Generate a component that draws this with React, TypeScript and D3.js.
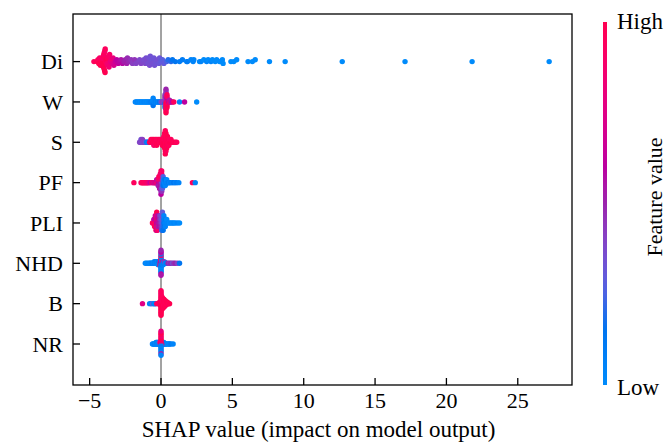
import React from 'react';
import * as d3 from 'd3';

const features = ['Di', 'W', 'S', 'PF', 'PLI', 'NHD', 'B', 'NR'];
const xTicks = [-5, 0, 5, 10, 15, 20, 25];
const xLabel = 'SHAP value (impact on model output)';
const cbLabel = 'Feature value';

// [SHAP value, normalised feature value (0 = low, 1 = high)]
const diPoints: [number, number][] = [
  [-4.7, 0.95],
  [-4.48, 1], [-4.42, 0.95], [-4.36, 1], [-4.3, 0.9], [-4.25, 1],
  [-4.2, 1], [-4.17, 0.95], [-4.14, 1], [-4.11, 0.9], [-4.08, 1], [-4.05, 0.95], [-4.03, 1], [-4.01, 0.9], [-3.99, 1], [-3.97, 0.95], [-3.95, 1], [-3.93, 0.9], [-3.92, 1], [-3.91, 0.95],
  [-3.88, 0.95], [-3.84, 1], [-3.8, 0.9], [-3.76, 0.95], [-3.72, 0.85], [-3.68, 0.9], [-3.64, 0.85], [-3.6, 0.9],
  [-3.55, 0.8], [-3.48, 0.85], [-3.42, 0.75], [-3.36, 0.8], [-3.3, 0.7],
  [-3.2, 0.65], [-3.1, 0.6], [-3.0, 0.62],
  [-2.9, 0.58], [-2.8, 0.55], [-2.7, 0.58],
  [-2.6, 0.52], [-2.5, 0.5], [-2.4, 0.52], [-2.35, 0.48],
  [-2.25, 0.48], [-2.1, 0.45], [-2.0, 0.42],
  [-1.95, 0.42], [-1.85, 0.45], [-1.75, 0.4],
  [-1.6, 0.4], [-1.5, 0.38], [-1.4, 0.4],
  [-1.3, 0.38], [-1.2, 0.36], [-1.1, 0.38], [-1.05, 0.35],
  [-1.0, 0.36], [-0.95, 0.38], [-0.9, 0.35], [-0.85, 0.34], [-0.8, 0.36], [-0.75, 0.34],
  [-0.7, 0.35], [-0.65, 0.33], [-0.6, 0.35], [-0.5, 0.33], [-0.45, 0.34],
  [-0.35, 0.33], [-0.25, 0.35], [-0.15, 0.32], [-0.1, 0.33],
  [0.0, 0.3], [0.1, 0.28], [0.2, 0.3],
  [0.4, 0.25], [0.5, 0.2],
  [0.7, 0.2], [0.8, 0.15],
  [1.0, 0.15], [1.3, 0.1], [1.5, 0.1], [1.8, 0.05], [1.85, 0.1], [2.1, 0.05], [2.25, 0.05], [2.3, 0.05],
  [2.7, 0.0], [2.8, 0.05], [3.0, 0.0], [3.2, 0.05], [3.3, 0.0], [3.5, 0.05], [3.6, 0.0], [3.8, 0.0], [3.9, 0.0], [4.1, 0.0], [4.3, 0.0], [4.35, 0.0],
  [4.9, 0.0], [5.1, 0.0], [5.3, 0.0],
  [6.1, 0.0], [6.4, 0.0], [6.6, 0.0],
  [7.6, 0.0], [8.7, 0.0], [12.7, 0.0], [17.1, 0.0], [21.8, 0.0], [27.2, 0.0],
];

const wPoints: [number, number][] = [
  [-1.8, 0.05], [-1.72, 0.0], [-1.65, 0.05], [-1.55, 0.0], [-1.5, 0.05], [-1.42, 0.0], [-1.35, 0.05], [-1.28, 0.0], [-1.2, 0.05], [-1.12, 0.05], [-1.05, 0.0], [-1.0, 0.05], [-0.92, 0.0], [-0.85, 0.05], [-0.78, 0.05], [-0.7, 0.1], [-0.62, 0.05],
  [-0.55, 0.05], [-0.55, 0.0], [-0.55, 0.1], [-0.55, 0.05], [-0.55, 0.15],
  [-0.48, 0.05], [-0.4, 0.1], [-0.32, 0.05], [-0.25, 0.1], [-0.18, 0.05], [-0.1, 0.15], [-0.05, 0.1],
  [0.0, 0.25], [0.05, 0.35], [0.1, 0.45], [0.15, 0.4],
  [0.28, 0.45], [0.28, 0.4], [0.28, 0.15], [0.28, 0.45], [0.28, 0.25], [0.28, 0.5], [0.28, 0.15], [0.28, 0.45],
  [0.35, 0.9], [0.35, 0.45], [0.35, 0.95], [0.35, 0.4], [0.35, 0.95], [0.35, 0.5], [0.35, 1], [0.35, 0.45], [0.35, 0.95], [0.35, 0.4], [0.35, 0.9], [0.35, 0.45], [0.35, 1], [0.35, 0.5],
  [0.42, 0.95], [0.42, 0.9], [0.42, 1], [0.42, 0.6], [0.42, 0.95], [0.42, 0.9], [0.42, 1], [0.42, 0.95],
  [0.5, 0.9], [0.55, 0.6], [0.6, 0.95], [0.6, 0.55], [0.65, 0.9], [0.7, 0.55], [0.8, 0.6], [0.9, 0.95],
  [1.3, 0.05], [1.65, 0.6], [2.5, 0.0],
];

const sPoints: [number, number][] = [
  [-1.5, 0.38], [-1.45, 0.42], [-1.4, 0.38], [-1.4, 0.35], [-1.35, 0.4], [-1.3, 0.35], [-1.3, 0.42], [-1.25, 0.38], [-1.2, 0.4], [-1.15, 0.42], [-1.1, 0.35],
  [-1.0, 0.1], [-0.95, 0.05], [-0.9, 0.05],
  [-0.8, 0.95], [-0.75, 1], [-0.7, 0.95], [-0.7, 1], [-0.65, 0.95], [-0.6, 1], [-0.6, 0.95], [-0.55, 1], [-0.5, 0.95], [-0.5, 1], [-0.5, 0.9],
  [-0.45, 1], [-0.4, 0.95], [-0.4, 1], [-0.35, 0.95], [-0.3, 1], [-0.3, 0.95], [-0.3, 1], [-0.25, 0.95], [-0.2, 1], [-0.2, 0.95],
  [-0.15, 1], [-0.1, 0.95], [-0.1, 1], [-0.05, 0.95], [0.0, 1], [0.0, 0.95], [0.05, 1], [0.05, 0.95],
  [0.1, 1], [0.1, 0.95], [0.1, 1], [0.15, 0.95], [0.15, 1], [0.15, 0.95],
  [0.2, 1], [0.2, 0.95], [0.2, 1], [0.2, 0.95],
  [0.25, 1], [0.25, 0.95], [0.25, 1], [0.25, 0.95], [0.25, 1], [0.25, 0.95],
  [0.3, 1], [0.3, 0.95], [0.3, 1], [0.3, 0.95], [0.3, 1], [0.3, 0.95], [0.3, 1], [0.3, 0.95], [0.3, 1],
  [0.35, 0.95], [0.35, 1], [0.35, 0.95], [0.35, 1], [0.35, 0.95], [0.35, 1], [0.35, 0.95],
  [0.4, 1], [0.4, 0.95], [0.4, 1], [0.4, 0.95], [0.4, 1],
  [0.45, 0.95], [0.45, 1], [0.45, 0.95], [0.45, 1],
  [0.5, 1], [0.5, 0.95], [0.5, 1], [0.55, 0.95], [0.55, 1], [0.55, 0.95],
  [0.6, 1], [0.6, 0.95], [0.7, 1], [0.7, 0.95], [0.8, 1], [0.9, 0.95], [1.0, 1], [1.1, 0.95],
];

const pfPoints: [number, number][] = [
  [-1.9, 0.95], [-1.4, 0.9], [-1.35, 0.95], [-1.3, 0.9], [-1.25, 1], [-1.2, 0.9], [-1.15, 0.95], [-1.1, 0.9], [-1.05, 0.95], [-1.0, 0.9], [-0.95, 0.85], [-0.9, 0.95], [-0.85, 0.8],
  [-0.75, 0.65], [-0.65, 0.9], [-0.55, 0.6], [-0.5, 0.85], [-0.45, 0.65], [-0.4, 0.9],
  [-0.35, 0.6], [-0.3, 0.85], [-0.3, 0.6], [-0.25, 0.9], [-0.25, 0.55], [-0.2, 0.7], [-0.2, 0.9], [-0.2, 0.55],
  [-0.15, 0.6], [-0.15, 0.85], [-0.15, 0.5], [-0.15, 0.95],
  [-0.1, 0.7], [-0.1, 0.9], [-0.1, 0.55], [-0.1, 0.95], [-0.1, 0.6],
  [-0.05, 0.6], [-0.05, 0.9], [-0.05, 0.5], [-0.05, 0.95], [-0.05, 0.55], [-0.05, 0.85],
  [0.0, 0.55], [0.0, 0.85], [0.0, 0.6], [0.0, 0.95], [0.0, 0.5], [0.0, 0.9], [0.0, 0.45], [0.0, 0.95], [0.0, 0.6],
  [0.05, 0.4], [0.05, 0.9], [0.05, 0.5], [0.05, 0.95], [0.05, 0.35], [0.05, 0.85], [0.05, 0.45], [0.05, 0.9],
  [0.1, 0.3], [0.1, 0.45], [0.1, 0.25], [0.1, 0.85], [0.1, 0.3],
  [0.15, 0.2], [0.15, 0.3], [0.15, 0.15], [0.15, 0.25],
  [0.2, 0.1], [0.2, 0.05], [0.2, 0.15], [0.25, 0.05], [0.25, 0.1], [0.3, 0.05], [0.3, 0.15], [0.3, 0.05], [0.35, 0.1], [0.4, 0.05], [0.4, 0.0], [0.45, 0.1],
  [0.5, 0.05], [0.55, 0.15], [0.6, 0.05], [0.7, 0.1], [0.8, 0.05], [0.9, 0.15], [1.0, 0.05], [1.1, 0.1], [1.25, 0.05],
  [2.2, 0.95], [2.4, 0.05],
];

const pliPoints: [number, number][] = [
  [-0.6, 0.95], [-0.55, 0.9], [-0.5, 0.95], [-0.5, 0.6],
  [-0.45, 0.9], [-0.45, 0.65], [-0.45, 1],
  [-0.4, 0.95], [-0.4, 0.6], [-0.4, 0.9], [-0.4, 0.7],
  [-0.35, 0.9], [-0.35, 0.6], [-0.35, 1], [-0.35, 0.65], [-0.35, 0.95],
  [-0.3, 0.6], [-0.3, 0.95], [-0.3, 0.55], [-0.3, 0.9], [-0.3, 0.6], [-0.3, 1],
  [-0.25, 0.7], [-0.25, 0.6], [-0.25, 0.95], [-0.25, 0.55], [-0.25, 0.9],
  [-0.2, 0.6], [-0.2, 0.9], [-0.2, 0.55], [-0.2, 0.65],
  [-0.15, 0.55], [-0.15, 0.6], [-0.15, 0.5],
  [-0.1, 0.55], [-0.1, 0.5], [-0.1, 0.6], [-0.1, 0.45],
  [-0.05, 0.5], [-0.05, 0.45], [-0.05, 0.55],
  [0.0, 0.45], [0.0, 0.4], [0.0, 0.5], [0.0, 0.35],
  [0.05, 0.4], [0.05, 0.3], [0.05, 0.45], [0.05, 0.35], [0.05, 0.25],
  [0.1, 0.3], [0.1, 0.35], [0.1, 0.25], [0.1, 0.4], [0.1, 0.2], [0.1, 0.3],
  [0.15, 0.25], [0.15, 0.3], [0.15, 0.2], [0.15, 0.35], [0.15, 0.15],
  [0.2, 0.15], [0.2, 0.1], [0.2, 0.2], [0.2, 0.05],
  [0.25, 0.1], [0.25, 0.05], [0.25, 0.15],
  [0.3, 0.05], [0.3, 0.1], [0.3, 0.05], [0.35, 0.05], [0.35, 0.1], [0.4, 0.05], [0.4, 0.0],
  [0.5, 0.05], [0.6, 0.0], [0.7, 0.05], [0.8, 0.0], [0.9, 0.05], [1.0, 0.0], [1.15, 0.05], [1.3, 0.0],
];

const nhdPoints: [number, number][] = [
  [-1.1, 0.05], [-1.0, 0.0], [-0.9, 0.05], [-0.8, 0.05], [-0.75, 0.0], [-0.7, 0.05], [-0.6, 0.1], [-0.55, 0.05],
  [-0.5, 0.05], [-0.5, 0.0], [-0.45, 0.1], [-0.45, 0.05], [-0.4, 0.05], [-0.4, 0.15], [-0.35, 0.0], [-0.35, 0.05],
  [-0.3, 0.05], [-0.3, 0.1], [-0.25, 0.05], [-0.25, 0.0], [-0.2, 0.1], [-0.2, 0.05], [-0.2, 0.0],
  [-0.15, 0.05], [-0.15, 0.15], [-0.15, 0.0], [-0.1, 0.05], [-0.1, 0.1], [-0.1, 0.95],
  [-0.05, 0.05], [-0.05, 0.9], [-0.05, 0.1], [-0.05, 0.05],
  [0.0, 0.05], [0.0, 0.6], [0.0, 0.55], [0.0, 0.65], [0.0, 0.05], [0.0, 0.9], [0.0, 0.1], [0.0, 0.95], [0.0, 0.05], [0.0, 0.05],
  [0.0, 0.0], [0.0, 0.9], [0.0, 0.05], [0.0, 0.1], [0.0, 0.05], [0.0, 0.55], [0.0, 0.6], [0.0, 0.6], [0.0, 0.55], [0.0, 0.5],
  [0.05, 0.05], [0.05, 0.95], [0.05, 0.1], [0.05, 0.05],
  [0.1, 0.05], [0.1, 0.55], [0.1, 0.1], [0.15, 0.05], [0.15, 0.5], [0.15, 0.05],
  [0.2, 0.1], [0.2, 0.05], [0.25, 0.05], [0.25, 0.45], [0.3, 0.05], [0.4, 0.1],
  [0.5, 0.5], [0.6, 0.45], [0.7, 0.5], [0.8, 0.35], [0.9, 0.45], [1.0, 0.5], [1.15, 0.4], [1.3, 0.15],
];

const bPoints: [number, number][] = [
  [-1.3, 0.75], [-0.8, 0.05], [-0.7, 0.05], [-0.6, 0.3], [-0.5, 0.05], [-0.45, 0.0], [-0.4, 0.05], [-0.3, 0.9], [-0.2, 0.95],
  [-0.1, 0.95], [-0.1, 1], [-0.05, 0.95], [-0.05, 1], [-0.05, 0.9],
  [0.0, 1], [0.0, 0.95], [0.0, 1], [0.0, 0.95], [0.0, 1], [0.0, 0.9], [0.0, 1], [0.0, 0.95], [0.0, 1],
  [0.0, 0.95], [0.0, 1], [0.0, 0.95], [0.0, 1], [0.0, 0.9], [0.0, 1], [0.0, 0.95], [0.0, 1], [0.0, 0.95],
  [0.05, 1], [0.05, 0.95], [0.05, 1], [0.05, 0.95], [0.05, 1], [0.05, 0.95], [0.05, 1], [0.05, 0.95], [0.05, 1], [0.05, 0.95],
  [0.1, 1], [0.1, 0.95], [0.1, 1], [0.1, 0.95], [0.1, 1], [0.1, 0.95], [0.1, 1], [0.1, 0.95],
  [0.15, 1], [0.15, 0.95], [0.15, 1], [0.15, 0.95], [0.15, 1], [0.15, 0.95], [0.15, 1],
  [0.2, 0.95], [0.2, 1], [0.2, 0.95], [0.2, 1], [0.2, 0.95], [0.2, 1],
  [0.25, 1], [0.25, 0.95], [0.25, 1], [0.25, 0.95], [0.25, 1],
  [0.3, 0.95], [0.3, 1], [0.3, 0.95], [0.3, 1],
  [0.35, 1], [0.35, 0.95], [0.35, 1], [0.4, 0.95], [0.4, 1], [0.45, 0.95], [0.45, 1],
  [0.5, 1], [0.55, 0.95], [0.6, 1],
];

const nrPoints: [number, number][] = [
  [-0.6, 0.05], [-0.55, 0.0], [-0.5, 0.05], [-0.45, 0.1], [-0.4, 0.05],
  [-0.35, 0.05], [-0.35, 0.0], [-0.3, 0.05], [-0.3, 0.1], [-0.25, 0.05], [-0.25, 0.0],
  [-0.2, 0.05], [-0.2, 0.1], [-0.15, 0.05], [-0.15, 0.0], [-0.1, 0.05], [-0.1, 0.4],
  [0.1, 0.05], [0.1, 0.1], [0.15, 0.05], [0.15, 0.1], [0.2, 0.05], [0.2, 0.0],
  [0.25, 0.05], [0.3, 0.1], [0.35, 0.05], [0.4, 0.05], [0.5, 0.0], [0.55, 0.05], [0.6, 0.05], [0.7, 0.1], [0.85, 0.05],
  [-0.05, 0.05], [-0.05, 0.9], [0.05, 0.95], [0.05, 0.1],
  [0.0, 0.7], [0.0, 0.95], [0.0, 0.05], [0.0, 0.9], [0.0, 0.1], [0.0, 0.95], [0.0, 0.05], [0.0, 1],
  [0.0, 0.1], [0.0, 0.85], [0.0, 0.05], [0.0, 0.95], [0.0, 0.5], [0.0, 1], [0.0, 0.05], [0.0, 0.8],
];

const featurePoints = [diPoints, wPoints, sPoints, pfPoints, pliPoints, nhdPoints, bPoints, nrPoints];

// CIE LCh (D65) -> sRGB, as skimage does
function lchToRgb(L: number, C: number, hDeg: number): string {
  const h = (hDeg * Math.PI) / 180;
  const a = C * Math.cos(h);
  const b = C * Math.sin(h);
  const fy = (L + 16) / 116;
  const fx = fy + a / 500;
  const fz = fy - b / 200;
  const inv = (f: number) => (f ** 3 > 0.008856 ? f ** 3 : (f - 16 / 116) / 7.787);
  const X = inv(fx) * 0.95047;
  const Y = inv(fy);
  const Z = inv(fz) * 1.08883;
  const lin = [
    3.2406 * X - 1.5372 * Y - 0.4986 * Z,
    -0.9689 * X + 1.8758 * Y + 0.0415 * Z,
    0.0557 * X - 0.204 * Y + 1.057 * Z,
  ];
  const gam = lin.map((v) => {
    const c = v > 0.0031308 ? 1.055 * Math.pow(v, 1 / 2.4) - 0.055 : 12.92 * v;
    return Math.round(Math.max(0, Math.min(1, c)) * 255);
  });
  return d3.rgb(gam[0], gam[1], gam[2]).formatHex();
}

// SHAP red_blue colormap (LCh interpolation with a darker middle)
function shapColor(t: number): string {
  const tt = Math.max(0, Math.min(1, t));
  const l = tt < 0.5 ? 54 + (40 - 54) * (tt / 0.5) : 40 + (54 - 40) * ((tt - 0.5) / 0.5);
  const c = 70 + (90 - 70) * tt;
  const h = 266.93 + (380.32 - 266.93) * tt;
  return lchToRgb(l, c, h);
}

// SHAP beeswarm vertical layout
function beeswarm(vals: number[]): number[] {
  const n = vals.length;
  const mn = d3.min(vals) as number;
  const mx = d3.max(vals) as number;
  const quant = vals.map((v) => Math.round((100 * (v - mn)) / (mx - mn + 1e-8)));
  const inds = d3.range(n).sort((a, b) => quant[a] - quant[b]);
  const ys = new Array(n).fill(0);
  let layer = 0;
  let last = -1;
  for (const i of inds) {
    if (quant[i] !== last) layer = 0;
    ys[i] = Math.ceil(layer / 2) * ((layer % 2) * 2 - 1);
    layer += 1;
    last = quant[i];
  }
  const m = d3.max(ys.map((y) => y + 1)) as number;
  return ys.map((y) => y * 0.9 * (0.4 / m));
}

export default function App() {
  const width = 668;
  const height = 443;
  const left = 73;
  const right = 572;
  const top = 14;
  const bottom = 385;
  const font = "'Liberation Serif', 'Times New Roman', serif";

  const x = d3.scaleLinear().domain([-6.167, 28.8]).range([left, right]);
  const y = d3.scaleLinear().domain([0, features.length - 1]).range([61.6, 344]);
  const step = y(1) - y(0);
  const fmt = d3.format('d');

  const dots: { cx: number; cy: number; fill: string; key: string }[] = [];
  features.forEach((f, i) => {
    const pts = featurePoints[i];
    const offs = beeswarm(pts.map((p) => p[0]));
    pts.forEach((p, j) => {
      dots.push({ cx: x(p[0]), cy: y(i) - offs[j] * step, fill: shapColor(p[1]), key: `${f}-${j}` });
    });
  });

  const cbX = 603;
  const cbW = 4;
  const cbTop = 22;
  const cbBottom = 385;
  const stops = d3.range(0, 1.0001, 0.05);

  return (
    <svg width={width} height={height} style={{ position: 'absolute', left: 0, top: 0, background: '#fff' }} fontFamily={font}>
      <defs>
        <linearGradient id="cbgrad" x1="0" y1="1" x2="0" y2="0">
          {stops.map((s) => (
            <stop key={s} offset={s} stopColor={shapColor(s)} />
          ))}
        </linearGradient>
      </defs>
      <rect x={0} y={0} width={width} height={height} fill="#fff" />
      <line x1={x(0)} x2={x(0)} y1={top} y2={bottom} stroke="#999999" strokeWidth={1.8} />
      {dots.map((d) => (
        <circle key={d.key} cx={d.cx} cy={d.cy} r={2.7} fill={d.fill} />
      ))}
      <rect x={left} y={top} width={right - left} height={bottom - top} fill="none" stroke="#000" strokeWidth={1.3} />
      {xTicks.map((t) => (
        <g key={t}>
          <line x1={x(t)} x2={x(t)} y1={bottom} y2={bottom - 7} stroke="#000" strokeWidth={1.3} />
          <text x={x(t)} y={408} textAnchor="middle" fontSize={22}>
            {fmt(t)}
          </text>
        </g>
      ))}
      {features.map((f, i) => (
        <g key={f}>
          <line x1={left} x2={left + 7} y1={y(i)} y2={y(i)} stroke="#000" strokeWidth={1.3} />
          <text x={63} y={y(i)} dy="0.35em" textAnchor="end" fontSize={22}>
            {f}
          </text>
        </g>
      ))}
      <text x={(left + right) / 2 - 4} y={437} textAnchor="middle" fontSize={23}>
        {xLabel}
      </text>
      <rect x={cbX} y={cbTop} width={cbW} height={cbBottom - cbTop} fill="url(#cbgrad)" />
      <text x={617} y={28.5} fontSize={23}>High</text>
      <text x={617} y={395} fontSize={23}>Low</text>
      <text transform={`translate(662, 197) rotate(-90)`} textAnchor="middle" fontSize={22}>
        {cbLabel}
      </text>
    </svg>
  );
}
